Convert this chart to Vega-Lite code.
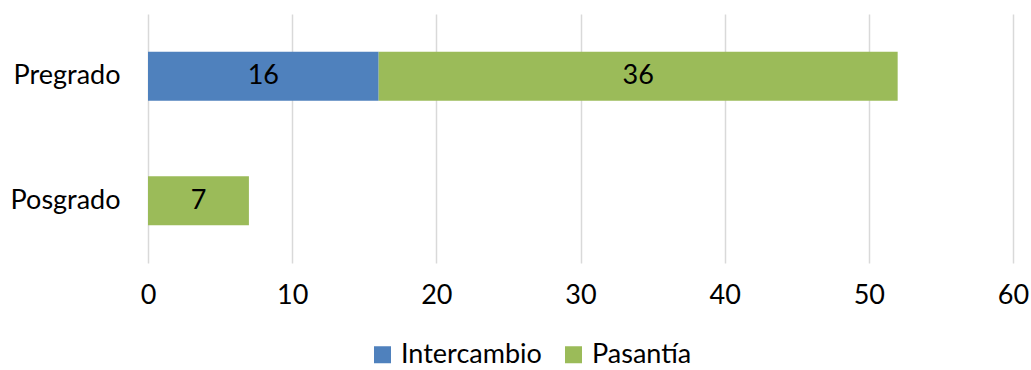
{
  "$schema": "https://vega.github.io/schema/vega-lite/v6.json",
  "autosize": "none",
  "width": 865,
  "height": 249,
  "padding": {"left": 148, "top": 14, "right": 18, "bottom": 107},
  "background": "white",
  "config": {
    "font": "Lato",
    "view": {"stroke": null}
  },
  "data": {
    "values": [
      {"nivel": "Pregrado", "tipo": "Intercambio", "valor": 16},
      {"nivel": "Pregrado", "tipo": "Pasantía", "valor": 36},
      {"nivel": "Posgrado", "tipo": "Pasantía", "valor": 7}
    ]
  },
  "encoding": {
    "y": {
      "field": "nivel",
      "type": "nominal",
      "sort": ["Pregrado", "Posgrado"],
      "scale": {"paddingInner": 0.606, "paddingOuter": 0.303},
      "axis": {
        "title": null,
        "ticks": false,
        "domain": false,
        "labelFontSize": 27,
        "labelColor": "#000000",
        "labelPadding": 28,
        "labelFont": "Lato"
      }
    },
    "x": {
      "field": "valor",
      "type": "quantitative",
      "stack": "zero",
      "scale": {"domain": [0, 60], "nice": false},
      "axis": {
        "title": null,
        "values": [0, 10, 20, 30, 40, 50, 60],
        "ticks": false,
        "domain": false,
        "grid": true,
        "gridColor": "#d9d9d9",
        "gridWidth": 1.5,
        "labelFontSize": 27,
        "labelColor": "#000000",
        "labelPadding": 19,
        "labelFlush": false,
        "labelFont": "Lato"
      }
    }
  },
  "layer": [
    {
      "mark": {"type": "bar"},
      "encoding": {
        "color": {
          "field": "tipo",
          "type": "nominal",
          "sort": ["Intercambio", "Pasantía"],
          "scale": {"domain": ["Intercambio", "Pasantía"], "range": ["#4f81bd", "#9bbb59"]},
          "legend": {
            "title": null,
            "orient": "none",
            "legendX": 221,
            "legendY": 327,
            "padding": 0,
            "direction": "horizontal",
            "symbolType": "square",
            "symbolSize": 289,
            "symbolStrokeWidth": 0,
            "labelFontSize": 27,
            "labelColor": "#000000",
            "labelOffset": 5,
            "columnPadding": 18,
            "labelFont": "Lato"
          }
        },
        "order": {"field": "tipo", "sort": "ascending"}
      }
    },
    {
      "mark": {"type": "text", "fontSize": 27, "color": "#000000", "baseline": "middle", "align": "center", "font": "Lato"},
      "encoding": {
        "x": {"field": "valor", "type": "quantitative", "stack": "zero", "bandPosition": 0.5},
        "detail": {"field": "tipo"},
        "order": {"field": "tipo", "sort": "ascending"},
        "text": {"field": "valor", "type": "quantitative"}
      }
    }
  ]
}
